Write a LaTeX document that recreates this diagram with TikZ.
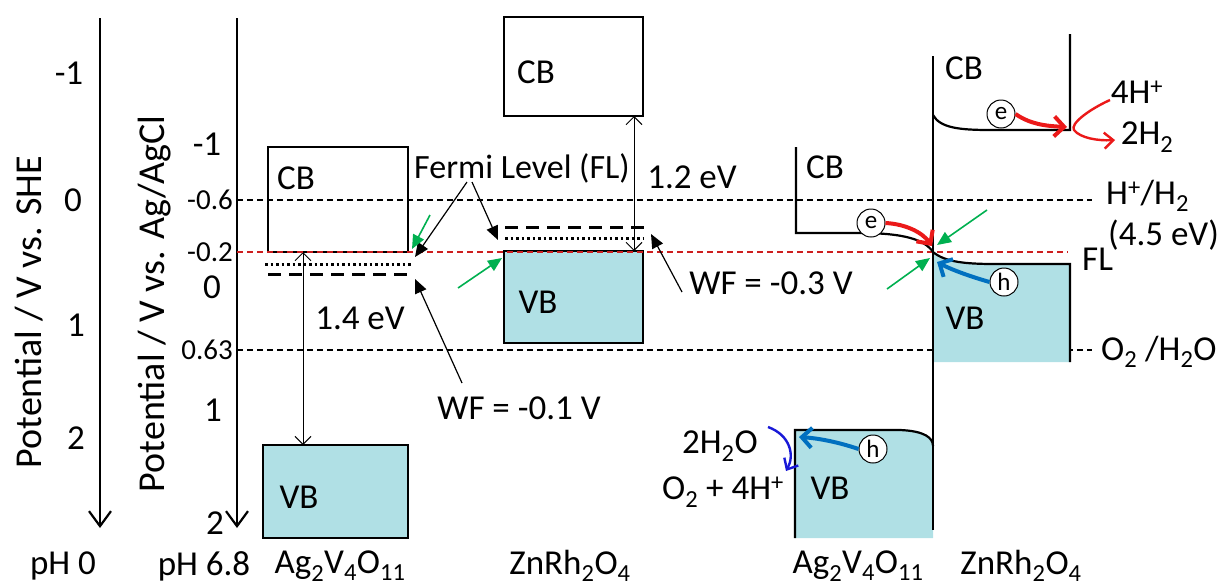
\documentclass[tikz,border=0pt]{standalone}
\usepackage{fontspec}
\setmainfont{Carlito}
\usetikzlibrary{arrows.meta}
\definecolor{vbfill}{RGB}{176,224,229}
\definecolor{arrgreen}{RGB}{0,176,80}
\definecolor{ered}{RGB}{235,25,25}
\definecolor{hblue}{RGB}{0,112,192}
\definecolor{dblue}{RGB}{25,25,215}
\definecolor{fldash}{RGB}{205,30,30}
\definecolor{thin}{RGB}{80,80,80}
\tikzset{
  txt/.style={font=\fontsize{35}{40}\selectfont, inner sep=0pt},
  biglbl/.style={font=\fontsize{38}{42}\selectfont, inner sep=0pt},
  ticklbl/.style={font=\fontsize{29}{32}\selectfont, inner sep=0pt},
  axis/.style={line width=2.2pt, -{Straight Barb[length=15pt,width=22pt,line width=2.2pt]}},
  band/.style={line width=2.2pt},
  refline/.style={line width=1.6pt, dash pattern=on 6pt off 4pt},
  flline/.style={line width=1.6pt, fldash, dash pattern=on 6pt off 4pt},
  fldashed/.style={line width=3pt, dash pattern=on 13pt off 8pt},
  fldotted/.style={line width=3pt, dash pattern=on 2.5pt off 3pt},
  gaparrow/.style={thin, line width=1pt, {Straight Barb[length=8pt,width=16pt]}-{Straight Barb[length=8pt,width=16pt]}},
  blackarrow/.style={line width=1.2pt, -{Triangle[length=14pt,width=12pt]}},
  greenarrow/.style={arrgreen, line width=1.6pt, -{Triangle[length=14pt,width=12pt]}},
  earrow/.style={ered, line width=4pt, -{Straight Barb[length=10pt,width=20pt,line width=4pt]}},
  harrow/.style={hblue, line width=4pt, -{Straight Barb[length=10pt,width=20pt,line width=4pt]}},
  carrier/.style={circle, draw, line width=1pt, fill=white, minimum size=28pt, inner sep=0pt, font=\fontsize{25}{27}\selectfont},
}
\begin{document}
\begin{tikzpicture}[x=1pt,y=-1pt]
\useasboundingbox (0,0) rectangle (1220,587);

% reference lines
\draw[refline] (237,200) -- (1092,200);
\draw[refline] (237,350) -- (1092,350);

% axes
\draw[axis] (100,18) -- (100,528);
\draw[axis] (237,18) -- (237,528);
\node[biglbl, rotate=90] (lblshe) at (29,312) {Potential / V vs. SHE};
\node[biglbl, rotate=90] (lblagcl) at (155,304) {Potential / V vs. Ag/AgCl};
\node[txt] (she1) at (69,73) {-1};
\node[txt] (she0) at (73,200) {0};
\node[txt] (she1b) at (76,325) {1};
\node[txt] (she2) at (76,438) {2};
\node[txt] (ag1) at (207,144) {-1};
\node[ticklbl, anchor=east] (ag06) at (233,200) {-0.6};
\node[ticklbl, anchor=east] (ag02) at (233,252) {-0.2};
\node[txt] (ag0) at (212,287) {0};
\node[ticklbl, anchor=east] (ag063) at (233,350) {0.63};
\node[txt] (ag1b) at (213,410) {1};
\node[txt] (ag2) at (215,523) {2};
\node[txt] (ph0) at (63,566) {pH 0};
\node[txt] (ph68) at (204,566) {pH 6.8};

% Ag2V4O11 (separate)
\draw[band] (268,147) rectangle (408,252);
\node[txt] (cb1) at (296,178) {CB};
\draw[band, fill=vbfill] (263,445) rectangle (408,538);
\node[txt] (vb1) at (299,497) {VB};
\draw[fldotted] (265,264) -- (413,264);
\draw[fldashed] (268,274) -- (413,274);
\coordinate (g14a) at (303,252);
\coordinate (g14b) at (303,445);
\draw[gaparrow] (g14a) -- (g14b);
\node[txt] (e14) at (360,318) {1.4 eV};
\node[txt] (mat1) at (340,566) {Ag\textsubscript{2}V\textsubscript{4}O\textsubscript{11}};

% ZnRh2O4 (separate)
\draw[band] (504,17) rectangle (643,116);
\node[txt] (cb2) at (536,72) {CB};
\draw[band, fill=vbfill] (504,251) rectangle (643,343);
\node[txt] (vb2) at (538,302) {VB};
\draw[fldashed] (505,227) -- (650,227);
\draw[fldotted] (505,238) -- (643,238);
\coordinate (g12a) at (634,116);
\coordinate (g12b) at (634,251);
\draw[gaparrow] (g12a) -- (g12b);
\node[txt] (e12) at (692,177) {1.2 eV};
\node[txt] (mat2) at (570,566) {ZnRh\textsubscript{2}O\textsubscript{4}};

% Fermi level line
\draw[flline] (237,252) -- (1068,252);

% annotations
\node[txt, font=\fontsize{34}{38}\selectfont] (fl) at (522,168) {Fermi Level (FL)};
\coordinate (fla) at (467,182);
\coordinate (flb) at (472,182);
\coordinate (flt1) at (415,257);
\coordinate (flt2) at (498,240);
\draw[blackarrow] (fla) -- (flt1);
\draw[blackarrow] (flb) -- (flt2);
\node[txt] (wf1) at (519,408) {WF = -0.1 V};
\coordinate (wf1s) at (462,383);
\coordinate (wf1t) at (415,279);
\draw[blackarrow] (wf1s) -- (wf1t);
\node[txt] (wf3) at (771,283) {WF = -0.3 V};
\coordinate (wf3s) at (682,292);
\coordinate (wf3t) at (651,234);
\draw[blackarrow] (wf3s) -- (wf3t);
\coordinate (g1s) at (430,215); \coordinate (g1t) at (412,249);
\coordinate (g2s) at (458,288); \coordinate (g2t) at (502,258);
\draw[greenarrow] (g1s) -- (g1t);
\draw[greenarrow] (g2s) -- (g2t);

% ---------- junction ----------
% ZnRh2O4 VB (right)
\fill[vbfill] (933,252) .. controls (945,262) and (965,264) .. (995,264) -- (1070,264) -- (1070,362) -- (933,362) -- cycle;
\draw[band] (933,252) .. controls (945,262) and (965,264) .. (995,264) -- (1070,264) -- (1070,362);
% Ag2V4O11 VB (right)
\fill[vbfill] (795,538) -- (795,430) -- (900,430) .. controls (925,431) and (933,438) .. (933,446) -- (933,538) -- cycle;
\draw[band] (795,538) -- (795,430) -- (900,430) .. controls (925,431) and (933,438) .. (933,446);
% Ag2V4O11 CB (right)
\draw[band] (796,147) -- (796,233) -- (860,233) .. controls (905,233) and (925,240) .. (933,252);
% ZnRh2O4 CB (right)
\draw[band] (933,115) .. controls (940,128) and (960,130) .. (990,130) -- (1070,130) -- (1070,34);
% interface
\draw[band] (933,56) -- (933,530);

\node[txt] (cb3) at (825,167) {CB};
\node[txt] (cb4) at (964,68) {CB};
\node[txt] (vb4) at (965,318) {VB};
\node[txt] (vb3) at (830,488) {VB};
\node[txt] (mat3) at (858,566) {Ag\textsubscript{2}V\textsubscript{4}O\textsubscript{11}};
\node[txt] (mat4) at (1021,566) {ZnRh\textsubscript{2}O\textsubscript{4}};

% carriers
\node[carrier] (e1) at (871,223) {e};
\node[carrier] (e2) at (1001,114) {e};
\node[carrier] (h1) at (1004,282) {h};
\node[carrier] (h2) at (873,449) {h};
\coordinate (e1t) at (932,246);
\coordinate (e2t) at (1067,127);
\coordinate (h1t) at (937,262);
\coordinate (h2t) at (799,437);
\draw[earrow] (e1.east) .. controls (905,224) and (922,232) .. (e1t);
\draw[earrow] (e2.east) .. controls (1030,124) and (1045,126) .. (e2t);
\draw[harrow] (h1.west) .. controls (972,277) and (952,270) .. (h1t);
\draw[harrow] (h2.west) .. controls (835,441) and (815,438) .. (h2t);

% green arrows at junction
\coordinate (g3s) at (987,210); \coordinate (g3t) at (937,245);
\coordinate (g4s) at (887,289); \coordinate (g4t) at (930,258);
\draw[greenarrow] (g3s) -- (g3t);
\draw[greenarrow] (g4s) -- (g4t);

% reactions
\node[txt] (h4) at (1137,92) {4H\textsuperscript{+}};
\node[txt] (h2g) at (1147,137) {2H\textsubscript{2}};
\coordinate (rs) at (1110,100);
\coordinate (rt) at (1115,140);
\draw[ered, line width=2.4pt, -{Straight Barb[length=9pt,width=16pt,line width=2.4pt]}] (rs) .. controls (1088,110) and (1070,124) .. (1074,130) .. controls (1080,138) and (1098,141) .. (rt);
\node[txt] (h2o) at (720,446) {2H\textsubscript{2}O};
\node[txt] (o2) at (723,492) {O\textsubscript{2} + 4H\textsuperscript{+}};
\coordinate (os) at (768,427);
\coordinate (ot) at (786,471);
\draw[dblue, line width=2.4pt, -{Straight Barb[length=9pt,width=16pt,line width=2.4pt]}] (os) .. controls (790,435) and (795,455) .. (ot);

\node[txt, anchor=west] (hh2) at (1106,196) {H\textsuperscript{+}/H\textsubscript{2}};
\node[txt, anchor=west] (ev45) at (1108,235) {(4.5 eV)};
\node[txt, anchor=west] (flr) at (1082,259) {FL};
\node[txt, anchor=west] (o2h2o) at (1101,352) {O\textsubscript{2} /H\textsubscript{2}O};
\end{tikzpicture}
\end{document}
